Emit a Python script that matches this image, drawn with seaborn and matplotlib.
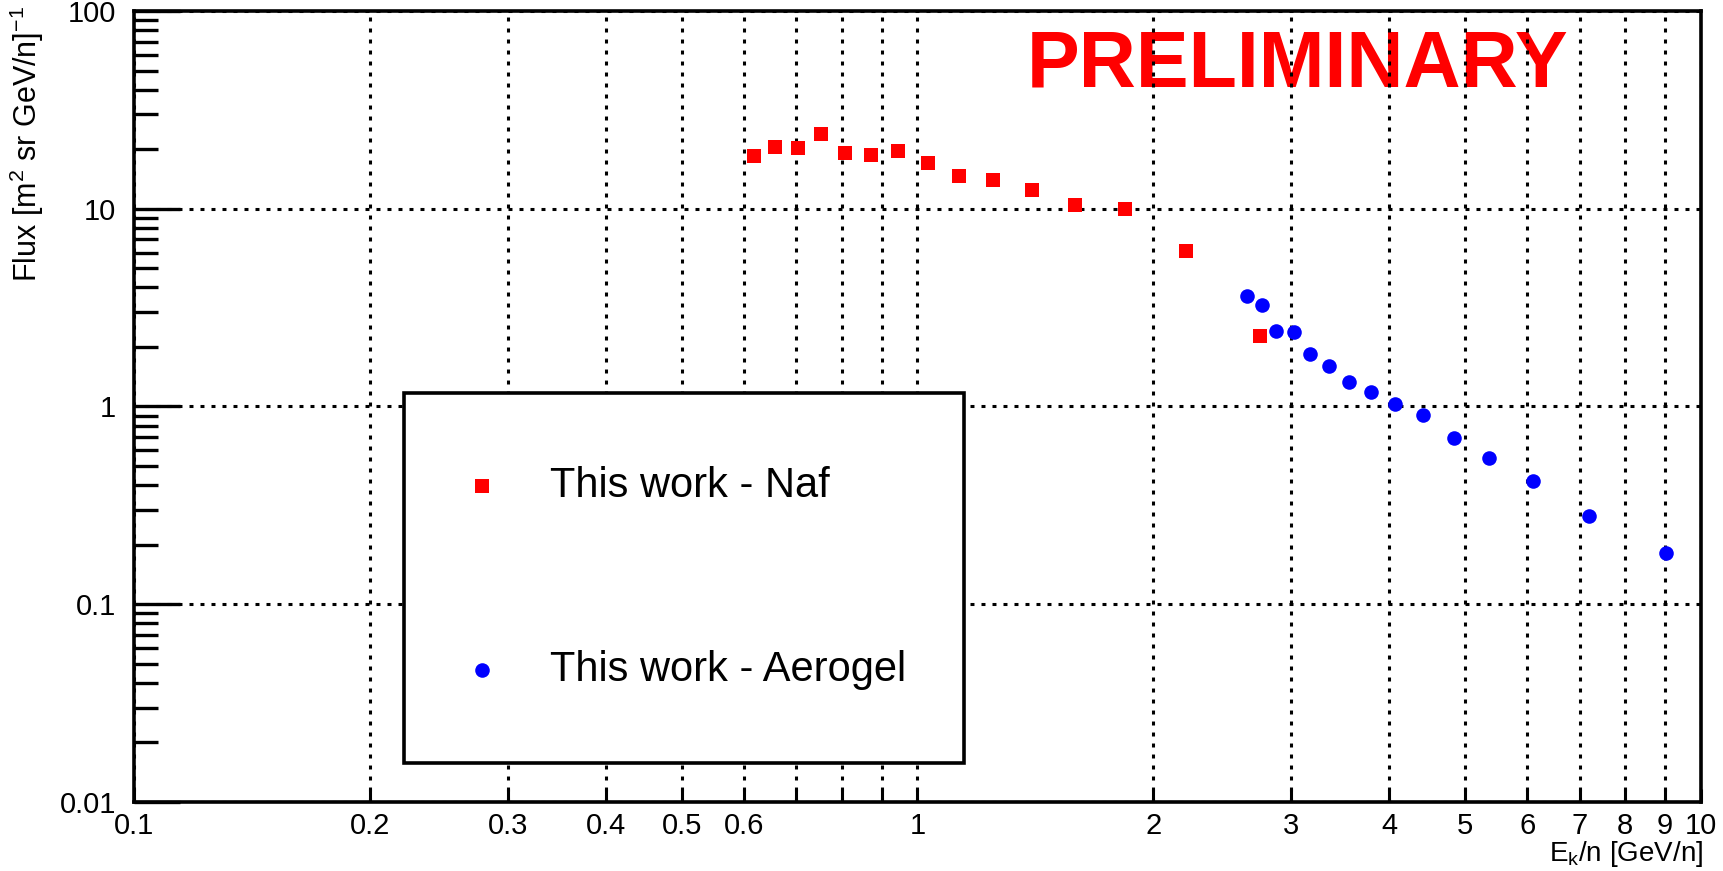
import matplotlib
matplotlib.use("Agg")
import matplotlib.pyplot as plt
import seaborn as sns
import numpy as np
import pandas as pd

# NaF radiator points
naf_ek = [0.618, 0.658, 0.703, 0.752, 0.807, 0.871, 0.945, 1.03, 1.13, 1.25, 1.40, 1.59, 1.84, 2.20, 2.74]
naf_flux = [18.5, 20.6, 20.4, 23.8, 19.1, 18.7, 19.7, 17.1, 14.7, 13.9, 12.4, 10.4, 10.0, 6.1, 2.27]

# Aerogel radiator points
aero_ek = [2.63, 2.75, 2.87, 3.02, 3.17, 3.35, 3.55, 3.79, 4.07, 4.42, 4.84, 5.37, 6.11, 7.19, 9.02]
aero_flux = [3.64, 3.25, 2.40, 2.39, 1.85, 1.60, 1.33, 1.19, 1.03, 0.91, 0.695, 0.55, 0.42, 0.281, 0.181]

x_ticks = [0.1, 0.2, 0.3, 0.4, 0.5, 0.6, 0.7, 0.8, 0.9, 1, 2, 3, 4, 5, 6, 7, 8, 9, 10]
x_ticklabels = ['0.1', '0.2', '0.3', '0.4', '0.5', '0.6', '', '', '', '1',
                '2', '3', '4', '5', '6', '7', '8', '9', '10']
y_ticks = [0.01, 0.1, 1, 10, 100]
y_ticklabels = ['0.01', '0.1', '1', '10', '100']

sns.set_style('white')
plt.rcParams['font.family'] = ['Liberation Sans', 'DejaVu Sans']
plt.rcParams['mathtext.fontset'] = 'custom'
plt.rcParams['mathtext.rm'] = 'Liberation Sans'
plt.rcParams['mathtext.it'] = 'Liberation Sans'
for key in ['text.color', 'axes.labelcolor', 'xtick.color', 'ytick.color', 'axes.edgecolor']:
    plt.rcParams[key] = 'black'

df_naf = pd.DataFrame({'ek': naf_ek, 'flux': naf_flux})
df_aero = pd.DataFrame({'ek': aero_ek, 'flux': aero_flux})

fig = plt.figure(figsize=(17.23, 8.71), dpi=100)
ax = fig.add_axes([0.0778, 0.0792, 0.9094, 0.9082])

sns.scatterplot(data=df_naf, x='ek', y='flux', marker='s', color='#ff0000', s=115,
                linewidth=0, label='This work - Naf', zorder=4, ax=ax)
sns.scatterplot(data=df_aero, x='ek', y='flux', marker='o', color='#0000ff', s=110,
                linewidth=0, label='This work - Aerogel', zorder=4, ax=ax)

ax.set_xscale('log')
ax.set_yscale('log')
ax.set_xlim(0.1, 10)
ax.set_ylim(0.01, 100)

ax.set_xticks(x_ticks)
ax.set_xticklabels(x_ticklabels)
ax.set_xticks([1], minor=True)
ax.set_xticklabels([''], minor=True)
ax.set_yticks(y_ticks)
ax.set_yticklabels(y_ticklabels)
ax.set_yticks([v * m for v in [0.01, 0.1, 1, 10] for m in range(2, 10)], minor=True)
ax.yaxis.set_minor_formatter(plt.NullFormatter())

ax.tick_params(axis='x', which='major', direction='in', length=9.5, width=2.2,
               labelsize=21, pad=7, top=False, bottom=True)
ax.tick_params(axis='x', which='minor', direction='in', length=17, width=2.2,
               top=False, bottom=True)
ax.tick_params(axis='y', which='major', direction='in', length=33, width=2.4,
               labelsize=21, pad=13, left=True, right=False)
ax.tick_params(axis='y', which='minor', direction='in', length=17, width=2.4,
               left=True, right=False)

for sp in ax.spines.values():
    sp.set_linewidth(2.6)
    sp.set_color('black')

ax.set_axisbelow(False)
ax.grid(True, which='major', color='black', linewidth=2.2, linestyle=(0, (1.3, 2.3)), zorder=2.5)
ax.grid(False, which='minor')

ax.set_xlabel('')
ax.set_ylabel('')

ax.text(0.7428, 0.9039, 'PRELIMINARY', transform=ax.transAxes, color='#ff0000',
        fontsize=57, fontweight='bold', ha='center', va='baseline', zorder=1)

leg = ax.legend(loc='center', bbox_to_anchor=(0.1723, 0.0493, 0.3574, 0.4682), mode='expand',
                fontsize=30, frameon=True, fancybox=False, framealpha=1, edgecolor='black',
                borderpad=1.76, labelspacing=3.45, handlelength=0.2, handletextpad=1.55,
                borderaxespad=0, markerscale=1.0)
leg.get_frame().set_linewidth(2.6)
for t in leg.get_texts():
    t.set_color('black')

fig.text(0.0157, 1 - 6 / 871, 'Flux [m$^{2}$ sr GeV/n]$^{-1}$', rotation=90,
         ha='center', va='top', fontsize=22)
fig.text(1703 / 1723, 2 / 871, 'E$_{k}$/n [GeV/n]', ha='right', va='bottom', fontsize=20)

fig.savefig('out.png', dpi=100)
